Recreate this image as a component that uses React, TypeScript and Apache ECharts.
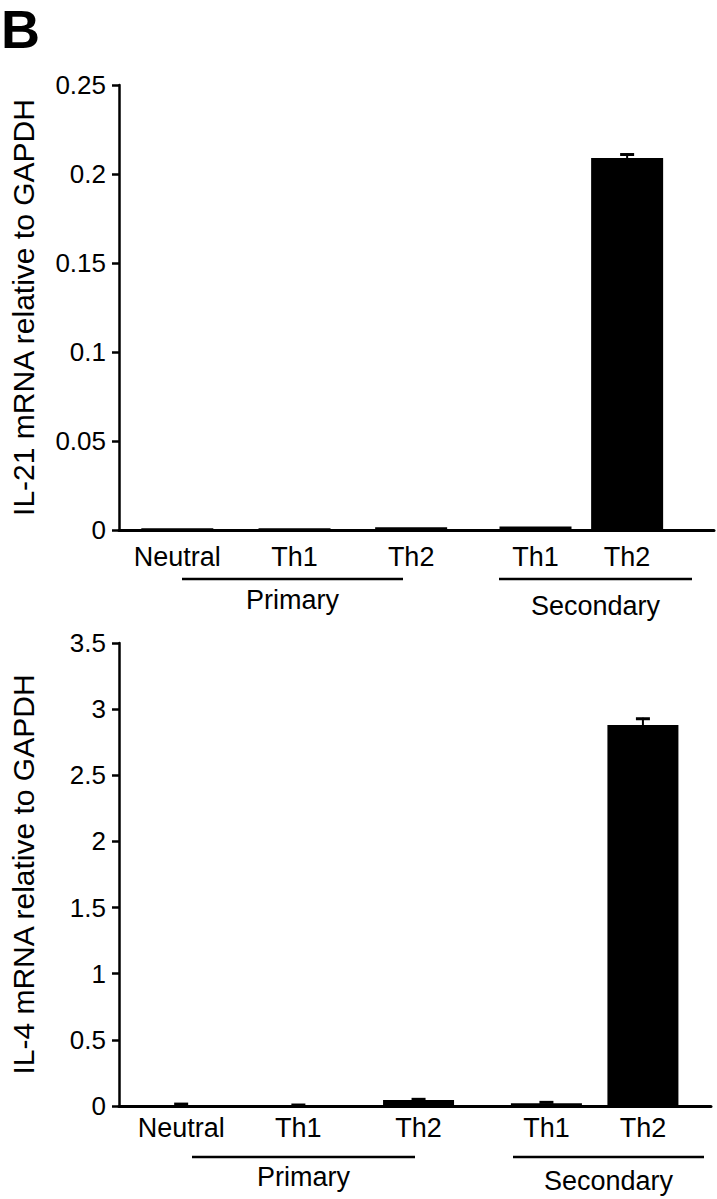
import React, { useEffect, useRef } from "react";
import * as echarts from "echarts";

const categories = ["Neutral", "Th1", "Th2", "Th1", "Th2"];
const groupNames = ["Primary", "Secondary"];

const il21Positions = [9.8, 29.5, 49.1, 70.0, 85.4];
const il21Values = [0.001, 0.001, 0.0015, 0.002, 0.209];
const il21Errors = [0, 0, 0, 0, 0.0025];
const il21TickLabels = ["0", "0.05", "0.1", "0.15", "0.2", "0.25"];

const il4Positions = [10.5, 30.3, 50.6, 72.2, 88.5];
const il4Values = [0.004, 0.003, 0.045, 0.02, 2.88];
const il4Errors = [0.018, 0.012, 0.013, 0.015, 0.055];
const il4TickLabels = ["0", "0.5", "1", "1.5", "2", "2.5", "3", "3.5"];

const FONT = "Liberation Sans, Arial, Helvetica, sans-serif";

function nearestLabel(v: number, positions: number[]) {
  let best = 0;
  for (let i = 1; i < positions.length; i++) {
    if (Math.abs(positions[i] - v) < Math.abs(positions[best] - v)) best = i;
  }
  return categories[best];
}

function errorRender(params: any, api: any) {
  const x = api.value(0);
  const lo = api.coord([x, api.value(1)]);
  const hi = api.coord([x, api.value(2)]);
  if (Math.abs(hi[1] - lo[1]) < 0.5) return null;
  return {
    type: "group",
    children: [
      {
        type: "line",
        shape: { x1: lo[0], y1: lo[1], x2: hi[0], y2: hi[1] },
        style: { stroke: "#000", lineWidth: 2 },
      },
      {
        type: "line",
        shape: { x1: hi[0] - 7, y1: hi[1] + 1, x2: hi[0] + 7, y2: hi[1] + 1 },
        style: { stroke: "#000", lineWidth: 3 },
      },
    ],
  };
}

export default function App() {
  const ref = useRef<HTMLDivElement>(null);
  useEffect(() => {
    if (!ref.current) return;
    const chart = echarts.init(ref.current, null, { renderer: "svg" });

    const xAxisBase = (positions: number[], margin: number, gridIndex: number) => ({
      type: "value",
      gridIndex,
      min: 0,
      max: 100,
      axisLine: { show: true, lineStyle: { color: "#000", width: 3 } },
      axisTick: { show: false },
      splitLine: { show: false },
      axisLabel: {
        show: true,
        customValues: positions,
        formatter: (v: number) => nearestLabel(v, positions),
        color: "#000",
        fontSize: 27,
        fontFamily: FONT,
        margin,
      },
    });

    const yAxisBase = (
      max: number,
      interval: number,
      labels: string[],
      name: string,
      gridIndex: number
    ) => ({
      type: "value",
      gridIndex,
      min: 0,
      max,
      interval,
      name,
      nameLocation: "middle",
      nameRotate: 90,
      nameGap: 81,
      nameTextStyle: { color: "#000", fontSize: 30, fontFamily: FONT },
      axisLine: { show: true, lineStyle: { color: "#000", width: 2.5 } },
      axisTick: { show: true, length: 7, lineStyle: { color: "#000", width: 2.5 } },
      splitLine: { show: false },
      axisLabel: {
        color: "#000",
        fontSize: 26,
        fontFamily: FONT,
        margin: 13,
        formatter: (v: number) => labels[Math.round(v / interval)] ?? "",
      },
    });

    const groupGraphic = (
      lineY: number,
      spans: [number, number][],
      textY: number[],
    ) =>
      spans.flatMap((s, i) => [
        {
          type: "line",
          shape: { x1: s[0], y1: lineY, x2: s[1], y2: lineY },
          style: { stroke: "#000", lineWidth: 2.5 },
        },
        {
          type: "text",
          x: (s[0] + s[1]) / 2,
          y: textY[i],
          style: {
            text: groupNames[i],
            fill: "#000",
            font: `27px ${FONT}`,
            textAlign: "center",
            textVerticalAlign: "middle",
          },
        },
      ]);

    chart.setOption({
      animation: false,
      backgroundColor: "#fff",
      grid: [
        { left: 113, top: 85, right: 3, height: 445 },
        { left: 113, top: 643, right: 6, height: 463 },
      ],
      xAxis: [xAxisBase(il21Positions, 13, 0), xAxisBase(il4Positions, 8, 1)],
      yAxis: [
        yAxisBase(0.25, 0.05, il21TickLabels, "IL-21 mRNA relative to GAPDH", 0),
        yAxisBase(3.5, 0.5, il4TickLabels, "IL-4 mRNA relative to GAPDH", 1),
      ],
      series: [
        {
          type: "bar",
          xAxisIndex: 0,
          yAxisIndex: 0,
          barWidth: 72,
          itemStyle: { color: "#000" },
          data: il21Positions.map((p, i) => [p, il21Values[i]]),
        },
        {
          type: "custom",
          xAxisIndex: 0,
          yAxisIndex: 0,
          renderItem: errorRender,
          data: il21Positions.map((p, i) => [p, il21Values[i], il21Values[i] + il21Errors[i]]),
          z: 5,
        },
        {
          type: "bar",
          xAxisIndex: 1,
          yAxisIndex: 1,
          barWidth: 71,
          itemStyle: { color: "#000" },
          data: il4Positions.map((p, i) => [p, il4Values[i]]),
        },
        {
          type: "custom",
          xAxisIndex: 1,
          yAxisIndex: 1,
          renderItem: errorRender,
          data: il4Positions.map((p, i) => [p, il4Values[i], il4Values[i] + il4Errors[i]]),
          z: 5,
        },
      ],
      graphic: [
        {
          type: "text",
          left: 1,
          top: 2,
          style: { text: "B", fill: "#000", font: `bold 54px ${FONT}` },
        },
        ...groupGraphic(579, [[182, 403], [499, 692]], [600, 606]),
        ...groupGraphic(1157, [[192, 415], [513, 704]], [1177, 1181]),
      ],
    });
    return () => chart.dispose();
  }, []);
  return (
    <div
      ref={ref}
      style={{ position: "absolute", left: 0, top: 0, width: 717, height: 1199 }}
    />
  );
}
